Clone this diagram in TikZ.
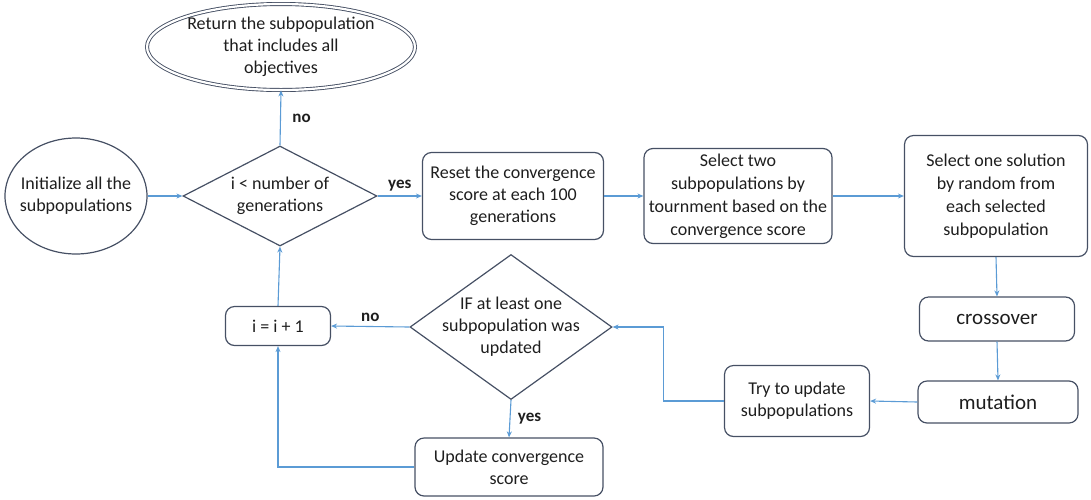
\documentclass[tikz,border=0pt]{standalone}
\usepackage{fontspec}
\setmainfont{Carlito}
\usetikzlibrary{shapes.geometric,arrows.meta}
\definecolor{lineblue}{RGB}{91,155,213}
\definecolor{boxgray}{RGB}{70,80,100}
\definecolor{txt}{RGB}{30,30,30}
\begin{document}
\begin{tikzpicture}[x=1pt,y=-1pt,
  box/.style={draw=boxgray, line width=1.2pt, rounded corners=9pt, align=center, inner sep=0pt, text=txt, font=\fontsize{18}{22}\selectfont},
  ell/.style={draw=boxgray, line width=1.2pt, ellipse, inner sep=0pt},
  dia/.style={draw=boxgray, line width=1.2pt, diamond, inner sep=0pt},
  dtext/.style={align=center, text=txt, font=\fontsize{18}{22}\selectfont},
  arr/.style={draw=lineblue, line width=1.1pt, -{Stealth[length=6pt,width=5pt]}},
  lbl/.style={font=\bfseries\fontsize{17}{20}\selectfont, text=txt}]
\useasboundingbox (0,0) rectangle (1091,499);
% nodes
\node[ell, minimum width=142, minimum height=116] (init) at (76,196) {};
\node[dtext] (initt) at (init) {Initialize all the\\subpopulations};
\node[ell, double=white, double distance=2.2pt, line width=0.9pt, minimum width=268, minimum height=86] (ret) at (281,47) {};
\node[dtext] (rett) at (ret) {Return the subpopulation\\that includes all\\objectives};
\node[dia, minimum width=194, minimum height=100] (d1) at (280,196) {};
\node[dtext] (d1t) at (d1) {i < number of\\generations};
\node[box, minimum width=181, minimum height=87] (reset) at (513,196) {Reset the convergence\\score at each 100\\generations};
\node[box, minimum width=188, minimum height=95, font=\fontsize{18}{23}\selectfont] (sel2) at (738,196) {Select two\\subpopulations by\\tournment based on the\\convergence score};
\node[box, minimum width=183, minimum height=121, font=\fontsize{18}{23}\selectfont] (sel1) at (996,196) {Select one solution\\by random from\\each selected\\subpopulation};
\node[box, minimum width=155, minimum height=44, font=\fontsize{21}{24}\selectfont] (cross) at (997,319) {crossover};
\node[box, minimum width=160, minimum height=42, font=\fontsize{21}{24}\selectfont] (mut) at (998,402) {mutation};
\node[box, minimum width=145, minimum height=71] (try) at (797,401) {Try to update\\subpopulations};
\node[dia, minimum width=202, minimum height=145] (d2) at (511,327) {};
\node[dtext] (d2t) at (d2) {IF at least one\\subpopulation was\\updated};
\node[box, minimum width=105, minimum height=39] (inc) at (278,326) {i = i + 1};
\node[box, minimum width=188, minimum height=58] (upd) at (509,467) {Update convergence\\score};
% connectors
\draw[arr] (init.east) -- (d1.west);
\draw[arr] (d1.north) -- (ret.south) node[midway, right=8pt, lbl] {no};
\draw[arr] (d1.east) -- (reset.west) node[midway, above=1pt, lbl] {yes};
\draw[arr] (reset.east) -- (sel2.west);
\draw[arr] (sel2.east) -- (sel1.west);
\draw[arr] (sel1.south) -- (cross.north);
\draw[arr] (cross.south) -- (mut.north);
\draw[arr] (mut.west) -- (try.east);
\coordinate (tcorner) at ([xshift=-60pt]try.west);
\draw[arr] (try.west) -- (tcorner) |- (d2.east);
\draw[arr] (d2.west) -- (inc.east) node[midway, above=1pt, lbl] {no};
\draw[arr] (d2.south) -- (upd.north) node[midway, right=4pt, lbl] {yes};
\draw[arr] (upd.west) -| (inc.south);
\draw[arr] (inc.north) -- (d1.south);
\end{tikzpicture}
\end{document}
